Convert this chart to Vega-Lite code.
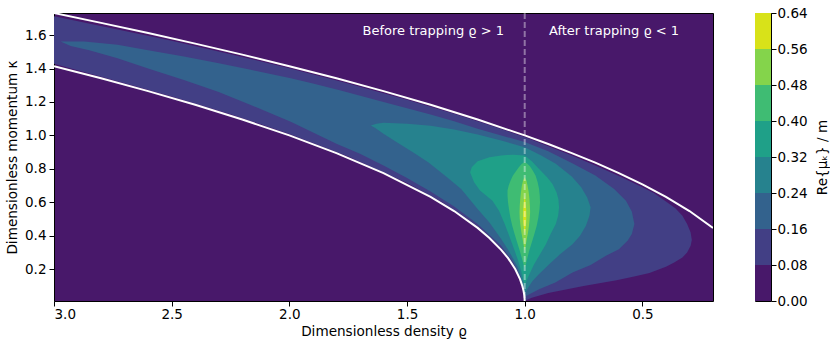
{
  "$schema": "https://vega.github.io/schema/vega-lite/v6.json",
  "background": "white",
  "padding": {"left": 5, "top": 5, "right": 0, "bottom": 0},
  "config": {
    "font": "DejaVu Sans",
    "view": {"stroke": "black", "strokeWidth": 1},
    "axis": {"labelFont": "DejaVu Sans", "titleFont": "DejaVu Sans", "labelFontSize": 13.5, "titleFontSize": 13.6, "titleFontWeight": "normal", "labelColor": "black", "titleColor": "black", "tickColor": "black", "tickSize": 5, "tickWidth": 1, "domain": false, "grid": false, "labelPadding": 1.5, "titlePadding": 3.5}
  },
  "datasets": {
    "b1": [{"r":3.0,"k":1.712},{"r":2.75,"k":1.64},{"r":2.5,"k":1.566},{"r":2.25,"k":1.486},{"r":2.0,"k":1.402},{"r":1.75,"k":1.311},{"r":1.5,"k":1.213},{"r":1.3,"k":1.129},{"r":1.2,"k":1.085},{"r":1.1,"k":1.038},{"r":1.0,"k":0.99},{"r":0.9,"k":0.935},{"r":0.8,"k":0.88},{"r":0.7,"k":0.82},{"r":0.6,"k":0.757},{"r":0.5,"k":0.69},{"r":0.45,"k":0.655},{"r":0.4,"k":0.605},{"r":0.36,"k":0.565},{"r":0.33,"k":0.52},{"r":0.31,"k":0.47},{"r":0.295,"k":0.42},{"r":0.29,"k":0.375},{"r":0.295,"k":0.34},{"r":0.31,"k":0.3},{"r":0.33,"k":0.27},{"r":0.365,"k":0.24},{"r":0.4,"k":0.215},{"r":0.47,"k":0.178},{"r":0.54,"k":0.155},{"r":0.61,"k":0.134},{"r":0.75,"k":0.1},{"r":0.9,"k":0.058},{"r":0.97,"k":0.03},{"r":1.0,"k":0.012},{"r":1.005,"k":0.078},{"r":1.01,"k":0.107},{"r":1.02,"k":0.149},{"r":1.05,"k":0.232},{"r":1.1,"k":0.325},{"r":1.2,"k":0.456},{"r":1.35,"k":0.601},{"r":1.5,"k":0.716},{"r":1.75,"k":0.874},{"r":2.0,"k":1.009},{"r":2.25,"k":1.127},{"r":2.5,"k":1.233},{"r":2.75,"k":1.331},{"r":3.0,"k":1.428}],
    "b2": [{"r":2.972,"k":1.562},{"r":2.872,"k":1.562},{"r":2.73,"k":1.542},{"r":2.6,"k":1.51},{"r":2.448,"k":1.472},{"r":2.3,"k":1.432},{"r":2.164,"k":1.392},{"r":1.994,"k":1.342},{"r":1.9,"k":1.31},{"r":1.782,"k":1.269},{"r":1.6,"k":1.2},{"r":1.4,"k":1.125},{"r":1.3,"k":1.085},{"r":1.2,"k":1.04},{"r":1.1,"k":1.0},{"r":1.0,"k":0.96},{"r":0.9,"k":0.905},{"r":0.8,"k":0.835},{"r":0.7,"k":0.76},{"r":0.62,"k":0.68},{"r":0.57,"k":0.61},{"r":0.545,"k":0.545},{"r":0.534,"k":0.47},{"r":0.545,"k":0.41},{"r":0.563,"k":0.37},{"r":0.6,"k":0.32},{"r":0.655,"k":0.28},{"r":0.72,"k":0.225},{"r":0.797,"k":0.18},{"r":0.87,"k":0.12},{"r":0.939,"k":0.08},{"r":0.98,"k":0.05},{"r":1.0,"k":0.035},{"r":1.005,"k":0.08},{"r":1.01,"k":0.11},{"r":1.02,"k":0.155},{"r":1.03,"k":0.19},{"r":1.05,"k":0.245},{"r":1.1,"k":0.34},{"r":1.2,"k":0.47},{"r":1.3,"k":0.575},{"r":1.4,"k":0.665},{"r":1.5,"k":0.745},{"r":1.6,"k":0.82},{"r":1.7,"k":0.89},{"r":1.8,"k":0.95},{"r":1.994,"k":1.082},{"r":2.164,"k":1.182},{"r":2.3,"k":1.26},{"r":2.448,"k":1.332},{"r":2.6,"k":1.4},{"r":2.73,"k":1.462},{"r":2.85,"k":1.51},{"r":2.929,"k":1.535}],
    "b3": [{"r":1.654,"k":1.06},{"r":1.63,"k":1.07},{"r":1.6,"k":1.076},{"r":1.5,"k":1.07},{"r":1.4,"k":1.058},{"r":1.3,"k":1.035},{"r":1.2,"k":1.005},{"r":1.1,"k":0.97},{"r":1.0,"k":0.93},{"r":0.93,"k":0.88},{"r":0.868,"k":0.83},{"r":0.8,"k":0.755},{"r":0.76,"k":0.69},{"r":0.735,"k":0.63},{"r":0.72,"k":0.57},{"r":0.725,"k":0.52},{"r":0.74,"k":0.46},{"r":0.765,"k":0.4},{"r":0.797,"k":0.35},{"r":0.85,"k":0.29},{"r":0.896,"k":0.23},{"r":0.94,"k":0.17},{"r":0.967,"k":0.13},{"r":0.99,"k":0.08},{"r":1.0,"k":0.05},{"r":1.005,"k":0.09},{"r":1.01,"k":0.125},{"r":1.02,"k":0.175},{"r":1.03,"k":0.215},{"r":1.05,"k":0.265},{"r":1.07,"k":0.315},{"r":1.1,"k":0.38},{"r":1.15,"k":0.48},{"r":1.2,"k":0.56},{"r":1.27,"k":0.68},{"r":1.33,"k":0.75},{"r":1.41,"k":0.84},{"r":1.47,"k":0.895},{"r":1.55,"k":0.965},{"r":1.6,"k":1.01},{"r":1.635,"k":1.045}],
    "b4": [{"r":1.232,"k":0.78},{"r":1.225,"k":0.81},{"r":1.2,"k":0.845},{"r":1.15,"k":0.87},{"r":1.1,"k":0.88},{"r":1.05,"k":0.885},{"r":1.0,"k":0.88},{"r":0.97,"k":0.845},{"r":0.939,"k":0.8},{"r":0.905,"k":0.75},{"r":0.882,"k":0.71},{"r":0.865,"k":0.66},{"r":0.857,"k":0.62},{"r":0.854,"k":0.57},{"r":0.858,"k":0.52},{"r":0.868,"k":0.47},{"r":0.89,"k":0.41},{"r":0.91,"k":0.35},{"r":0.935,"k":0.29},{"r":0.96,"k":0.23},{"r":0.98,"k":0.17},{"r":0.993,"k":0.13},{"r":1.0,"k":0.1},{"r":1.005,"k":0.13},{"r":1.015,"k":0.19},{"r":1.03,"k":0.26},{"r":1.045,"k":0.32},{"r":1.066,"k":0.4},{"r":1.085,"k":0.47},{"r":1.109,"k":0.55},{"r":1.137,"k":0.61},{"r":1.19,"k":0.67},{"r":1.215,"k":0.72}],
    "b5": [{"r":1.0,"k":0.84},{"r":1.012,"k":0.83},{"r":1.025,"k":0.81},{"r":1.038,"k":0.785},{"r":1.05,"k":0.76},{"r":1.06,"k":0.73},{"r":1.068,"k":0.7},{"r":1.073,"k":0.67},{"r":1.073,"k":0.64},{"r":1.071,"k":0.6},{"r":1.067,"k":0.56},{"r":1.061,"k":0.51},{"r":1.053,"k":0.46},{"r":1.043,"k":0.41},{"r":1.032,"k":0.36},{"r":1.021,"k":0.31},{"r":1.011,"k":0.26},{"r":1.004,"k":0.225},{"r":1.0,"k":0.21},{"r":0.996,"k":0.225},{"r":0.99,"k":0.26},{"r":0.981,"k":0.31},{"r":0.97,"k":0.36},{"r":0.959,"k":0.41},{"r":0.949,"k":0.46},{"r":0.942,"k":0.51},{"r":0.937,"k":0.56},{"r":0.935,"k":0.6},{"r":0.936,"k":0.64},{"r":0.939,"k":0.68},{"r":0.945,"k":0.72},{"r":0.954,"k":0.76},{"r":0.966,"k":0.79},{"r":0.978,"k":0.815},{"r":0.99,"k":0.832}],
    "b6": [{"r":1.0,"k":0.75},{"r":1.007,"k":0.73},{"r":1.012,"k":0.7},{"r":1.016,"k":0.66},{"r":1.019,"k":0.62},{"r":1.021,"k":0.58},{"r":1.022,"k":0.54},{"r":1.021,"k":0.5},{"r":1.018,"k":0.46},{"r":1.014,"k":0.42},{"r":1.009,"k":0.38},{"r":1.004,"k":0.34},{"r":1.0,"k":0.31},{"r":0.996,"k":0.34},{"r":0.991,"k":0.38},{"r":0.986,"k":0.42},{"r":0.982,"k":0.46},{"r":0.979,"k":0.5},{"r":0.977,"k":0.54},{"r":0.978,"k":0.58},{"r":0.98,"k":0.62},{"r":0.983,"k":0.66},{"r":0.988,"k":0.7},{"r":0.993,"k":0.73}],
    "b7": [{"r":1.0,"k":0.64},{"r":1.003,"k":0.61},{"r":1.006,"k":0.56},{"r":1.007,"k":0.52},{"r":1.006,"k":0.48},{"r":1.003,"k":0.44},{"r":1.0,"k":0.41},{"r":0.997,"k":0.44},{"r":0.994,"k":0.48},{"r":0.993,"k":0.52},{"r":0.994,"k":0.56},{"r":0.997,"k":0.61}],
    "upper": [{"r":3.0,"k":1.732},{"r":2.8,"k":1.673},{"r":2.6,"k":1.612},{"r":2.4,"k":1.549},{"r":2.2,"k":1.483},{"r":2.0,"k":1.414},{"r":1.8,"k":1.342},{"r":1.6,"k":1.265},{"r":1.4,"k":1.183},{"r":1.2,"k":1.095},{"r":1.0,"k":1.0},{"r":0.9,"k":0.949},{"r":0.8,"k":0.894},{"r":0.7,"k":0.837},{"r":0.6,"k":0.775},{"r":0.5,"k":0.707},{"r":0.4,"k":0.632},{"r":0.3,"k":0.548},{"r":0.2,"k":0.447}],
    "lower": [{"r":3.0,"k":1.414},{"r":2.8,"k":1.342},{"r":2.6,"k":1.265},{"r":2.4,"k":1.183},{"r":2.2,"k":1.095},{"r":2.0,"k":1.0},{"r":1.8,"k":0.894},{"r":1.6,"k":0.775},{"r":1.4,"k":0.632},{"r":1.3,"k":0.548},{"r":1.2,"k":0.447},{"r":1.15,"k":0.387},{"r":1.1,"k":0.316},{"r":1.07,"k":0.265},{"r":1.04,"k":0.2},{"r":1.02,"k":0.141},{"r":1.01,"k":0.1},{"r":1.005,"k":0.071},{"r":1.002,"k":0.045},{"r":1.0005,"k":0.022},{"r":1.0,"k":0.0}],
    "bands": [{"lo":0.0,"hi":0.08},{"lo":0.08,"hi":0.16},{"lo":0.16,"hi":0.24},{"lo":0.24,"hi":0.32},{"lo":0.32,"hi":0.4},{"lo":0.4,"hi":0.48},{"lo":0.48,"hi":0.56},{"lo":0.56,"hi":0.64}]
  },
  "spacing": 40,
  "hconcat": [
    {
      "width": 659,
      "height": 288,
      "view": {"fill": "#48186a", "stroke": "black", "strokeWidth": 1},
      "layer": [
        {
          "data": {"name": "b1"},
          "mark": {"type": "line", "fill": "#423f85", "strokeWidth": 0, "clip": true},
          "encoding": {
            "x": {"field": "r", "type": "quantitative", "scale": {"domain": [0.2, 3.0], "reverse": true, "nice": false, "zero": false}, "axis": {"values": [3.0, 2.5, 2.0, 1.5, 1.0, 0.5], "format": ".1f", "title": "Dimensionless density ϱ"}},
            "y": {"field": "k", "type": "quantitative", "scale": {"domain": [0.01, 1.732], "nice": false, "zero": false}, "axis": {"values": [0.2, 0.4, 0.6, 0.8, 1.0, 1.2, 1.4, 1.6], "format": ".1f", "title": "Dimensionless momentum κ", "labelPadding": 3, "titlePadding": 5}},
            "order": {"value": null}
          }
        },
        {"data": {"name": "b2"}, "mark": {"type": "line", "fill": "#33628d", "strokeWidth": 0, "clip": true}, "encoding": {"x": {"field": "r", "type": "quantitative"}, "y": {"field": "k", "type": "quantitative"}, "order": {"value": null}}},
        {"data": {"name": "b3"}, "mark": {"type": "line", "fill": "#26828e", "strokeWidth": 0, "clip": true}, "encoding": {"x": {"field": "r", "type": "quantitative"}, "y": {"field": "k", "type": "quantitative"}, "order": {"value": null}}},
        {"data": {"name": "b4"}, "mark": {"type": "line", "fill": "#1fa088", "strokeWidth": 0, "clip": true}, "encoding": {"x": {"field": "r", "type": "quantitative"}, "y": {"field": "k", "type": "quantitative"}, "order": {"value": null}}},
        {"data": {"name": "b5"}, "mark": {"type": "line", "fill": "#3fbc73", "strokeWidth": 0, "clip": true}, "encoding": {"x": {"field": "r", "type": "quantitative"}, "y": {"field": "k", "type": "quantitative"}, "order": {"value": null}}},
        {"data": {"name": "b6"}, "mark": {"type": "line", "fill": "#84d44b", "strokeWidth": 0, "clip": true}, "encoding": {"x": {"field": "r", "type": "quantitative"}, "y": {"field": "k", "type": "quantitative"}, "order": {"value": null}}},
        {"data": {"name": "b7"}, "mark": {"type": "line", "fill": "#d8e219", "strokeWidth": 0, "clip": true}, "encoding": {"x": {"field": "r", "type": "quantitative"}, "y": {"field": "k", "type": "quantitative"}, "order": {"value": null}}},
        {"data": {"name": "upper"}, "mark": {"type": "line", "color": "white", "strokeWidth": 2, "clip": true}, "encoding": {"x": {"field": "r", "type": "quantitative"}, "y": {"field": "k", "type": "quantitative"}, "order": {"value": null}}},
        {"data": {"name": "lower"}, "mark": {"type": "line", "color": "white", "strokeWidth": 2, "clip": true}, "encoding": {"x": {"field": "r", "type": "quantitative"}, "y": {"field": "k", "type": "quantitative"}, "order": {"value": null}}},
        {"data": {"values": [{"r": 1.0}]}, "mark": {"type": "rule", "color": "white", "opacity": 0.4, "strokeWidth": 2, "strokeDash": [6, 3], "clip": true}, "encoding": {"x": {"field": "r", "type": "quantitative"}}},
        {"data": {"values": [{"r": 1.088, "k": 1.626, "t": "Before trapping ϱ > 1"}]}, "mark": {"type": "text", "color": "white", "align": "right", "baseline": "middle", "fontSize": 13, "font": "DejaVu Sans"}, "encoding": {"x": {"field": "r", "type": "quantitative"}, "y": {"field": "k", "type": "quantitative"}, "text": {"field": "t"}}},
        {"data": {"values": [{"r": 0.897, "k": 1.626, "t": "After trapping ϱ < 1"}]}, "mark": {"type": "text", "color": "white", "align": "left", "baseline": "middle", "fontSize": 13, "font": "DejaVu Sans"}, "encoding": {"x": {"field": "r", "type": "quantitative"}, "y": {"field": "k", "type": "quantitative"}, "text": {"field": "t"}}}
      ]
    },
    {
      "width": 16,
      "height": 288,
      "data": {"name": "bands"},
      "mark": {"type": "rect"},
      "encoding": {
        "y": {"field": "lo", "type": "quantitative", "scale": {"domain": [0, 0.64], "nice": false, "zero": false}, "axis": {"orient": "right", "values": [0, 0.08, 0.16, 0.24, 0.32, 0.4, 0.48, 0.56, 0.64], "format": ".2f", "title": "Re{μₖ} / m", "titleAngle": -90, "titleBaseline": "top", "titlePadding": 8, "labelPadding": 1}},
        "y2": {"field": "hi"},
        "fill": {"field": "lo", "type": "ordinal", "scale": {"domain": [0, 0.08, 0.16, 0.24, 0.32, 0.4, 0.48, 0.56], "range": ["#48186a", "#423f85", "#33628d", "#26828e", "#1fa088", "#3fbc73", "#84d44b", "#d8e219"]}, "legend": null}
      }
    }
  ]
}
